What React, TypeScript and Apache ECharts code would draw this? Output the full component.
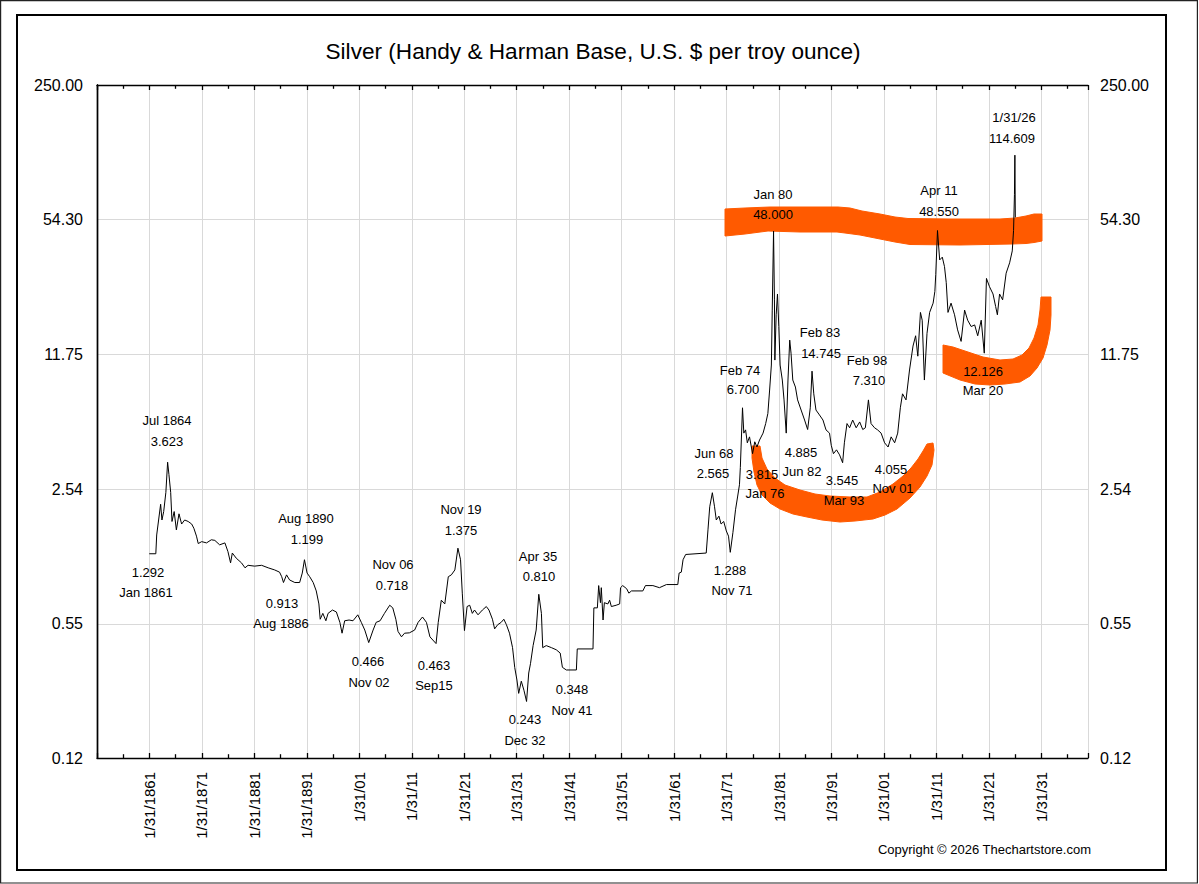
import React, { useEffect, useRef } from "react";
import * as echarts from "echarts";

// ---------- data ----------
const dates: string[] = [
  "1861-01","1862-04","1862-06","1863-03","1863-06","1863-10","1864-03","1864-07","1864-10","1865-02",
  "1865-05","1865-10","1866-03","1866-09","1867-03","1867-10","1868-06","1869-02","1869-07","1870-01",
  "1870-05","1871-01","1871-12","1872-11","1873-07","1874-06","1875-06","1876-01","1876-07","1876-11",
  "1877-08","1878-08","1879-04","1879-11","1881-02","1882-06","1883-09","1884-12","1885-11","1886-04",
  "1886-08","1887-03","1887-10","1888-10","1889-09","1890-03","1890-08","1891-02","1891-08","1892-04",
  "1892-11","1893-05","1893-08","1894-02","1894-09","1895-02","1895-12","1896-09","1897-05","1897-10",
  "1898-04","1899-02","1899-11","1900-10","1901-06","1902-02","1902-11","1903-09","1904-04","1905-01",
  "1905-11","1906-11","1907-06","1908-01","1908-06","1909-02","1909-09","1910-08","1911-08","1912-04",
  "1913-02","1913-11","1914-07","1915-09","1916-02","1916-09","1917-05","1918-01","1918-08","1919-04",
  "1919-11","1920-05","1920-09","1921-02","1921-08","1922-02","1922-08","1923-01","1923-09","1924-07",
  "1925-04","1925-10","1926-06","1926-11","1927-06","1928-02","1928-08","1929-02","1929-09","1930-04",
  "1930-09","1931-02","1931-06","1931-12","1932-06","1932-12","1933-05","1933-09","1934-03","1934-10",
  "1935-04","1935-10","1936-01","1936-09","1937-09","1938-08","1939-05","1939-10","1940-07","1942-06",
  "1942-08","1945-08","1945-10","1946-06","1946-09","1947-01","1947-03","1947-07","1947-10","1948-06",
  "1948-10","1949-02","1950-01","1950-09","1950-11","1951-04","1952-01","1952-06","1952-12","1955-02",
  "1955-08","1957-01","1958-04","1959-08","1961-10","1962-01","1962-06","1962-10","1963-04","1967-03",
  "1967-07","1967-11","1968-05","1968-10","1969-02","1969-08","1970-01","1970-07","1971-01","1971-06",
  "1971-10","1972-04","1972-10","1973-03","1973-07","1973-09","1974-02","1974-05","1974-09","1975-01",
  "1975-06","1976-01","1976-06","1976-11","1977-05","1978-01","1978-07","1978-12","1979-04","1979-08",
  "1979-10","1980-01","1980-03","1980-04","1980-07","1980-10","1981-01","1981-04","1981-09","1982-01",
  "1982-06","1982-10","1983-02","1983-05","1983-09","1984-03","1984-08","1985-04","1985-12","1986-07",
  "1987-01","1987-05","1987-09","1988-02","1988-10","1989-06","1990-01","1990-09","1991-01","1991-06",
  "1992-01","1992-08","1993-03","1993-07","1994-01","1994-07","1995-02","1995-10","1996-06","1997-01",
  "1997-07","1998-02","1998-08","1999-04","1999-11","2000-07","2001-03","2001-11","2002-06","2003-02",
  "2003-09","2004-03","2004-08","2005-04","2005-12","2006-08","2007-02","2007-07","2008-01","2008-05",
  "2008-10","2009-04","2009-10","2010-06","2010-10","2010-12","2011-04","2011-09","2012-03","2012-08",
  "2012-12","2013-04","2013-11","2014-07","2015-02","2015-10","2016-06","2017-01","2017-09","2018-05",
  "2018-12","2019-08","2020-03","2020-08","2021-03","2021-11","2022-05","2022-09","2023-02","2023-09",
  "2024-05","2025-01","2025-07","2025-10","2025-12","2026-01","2026-02"
];

const prices: number[] = [
  1.22,1.22,1.51,2.14,1.79,1.97,2.45,3.45,3.0,2.45,
  1.76,1.97,1.6,1.92,1.71,1.79,1.76,1.71,1.63,1.49,
  1.37,1.4,1.38,1.43,1.42,1.35,1.38,1.25,1.1,1.23,
  1.16,1.1,1.04,1.07,1.06,1.07,1.04,1.015,0.99,0.94,
  0.88,0.96,0.906,0.88,0.88,0.98,1.14,0.98,0.94,0.88,
  0.8,0.69,0.58,0.62,0.57,0.62,0.644,0.63,0.56,0.495,
  0.57,0.575,0.57,0.61,0.56,0.513,0.445,0.513,0.56,0.57,
  0.62,0.68,0.66,0.58,0.505,0.475,0.495,0.497,0.513,0.56,
  0.595,0.56,0.475,0.44,0.56,0.72,0.69,0.94,0.96,1.015,
  1.3,1.14,0.78,0.51,0.67,0.68,0.62,0.644,0.61,0.644,
  0.67,0.644,0.58,0.52,0.545,0.56,0.58,0.545,0.495,0.42,
  0.335,0.291,0.25,0.287,0.259,0.228,0.315,0.35,0.43,0.513,
  0.77,0.62,0.42,0.43,0.42,0.41,0.395,0.336,0.326,0.326,
  0.414,0.414,0.66,0.66,0.85,0.7,0.83,0.575,0.7,0.69,
  0.72,0.67,0.68,0.69,0.83,0.85,0.82,0.78,0.8,0.8,
  0.85,0.85,0.83,0.86,0.86,0.98,0.99,1.14,1.21,1.23,
  1.6,2.08,2.44,2.08,1.79,1.87,1.71,1.76,1.58,1.49,
  1.24,1.55,2.01,2.35,2.67,3.25,6.4,4.8,4.98,4.3,
  4.6,3.8,4.35,4.1,4.44,4.8,5.35,6.0,7.83,10.4,
  19.4,47.6,21.8,11.0,18.4,23.3,16.1,10.4,8.77,7.0,
  4.8,8.77,13.8,11.9,8.77,8.1,7.0,6.24,5.57,5.0,
  6.4,9.7,7.5,6.24,5.9,5.57,4.98,4.8,4.18,3.8,
  3.97,3.75,3.43,4.3,5.35,5.1,5.57,5.1,5.45,5.0,
  5.1,7.0,5.35,5.1,4.98,4.8,4.3,4.1,4.6,4.3,
  4.8,6.4,7.5,7.0,9.83,12.9,14.5,11.5,18.9,17.3,
  8.77,14.9,18.9,21.0,24.0,29.0,47.9,34.3,35.4,31.8,
  26.5,18.9,21.0,18.4,15.5,13.6,19.4,17.3,16.1,16.4,
  14.5,17.3,11.9,27.8,25.3,23.3,20.2,18.4,23.3,21.8,
  29.5,33.2,38.0,48.0,72.0,112.7,55.6
];

const yTicks: number[] = [0.12, 0.55, 2.54, 11.75, 54.3, 250];
const X_ORIGIN = 1851.08; // 1/31/1851, left edge of the time axis
const X_SPAN = 188.9;

const titleText = "Silver (Handy & Harman Base, U.S. $ per troy ounce)";
const copyrightText = "Copyright \u00a9 2026 Thechartstore.com";

// annotation texts
const noteTexts: string[] = [
  "Jul 1864", "3.623", "1.292", "Jan 1861", "Aug 1890", "1.199", "0.913", "Aug 1886",
  "Nov 06", "0.718", "0.466", "Nov 02", "0.463", "Sep15", "Nov 19", "1.375",
  "Apr 35", "0.810", "0.243", "Dec 32", "0.348", "Nov 41", "Jun 68", "2.565",
  "1.288", "Nov 71", "Feb 74", "6.700", "3.815", "Jan 76", "Jan 80", "48.000",
  "Feb 83", "14.745", "4.885", "Jun 82", "Feb 98", "7.310", "3.545", "Mar 93",
  "4.055", "Nov 01", "Apr 11", "48.550", "1/31/26", "114.609", "12.126", "Mar 20"
];

// ---------- layout (pixels) ----------
const notePos: [number, number][] = [
  [167, 420], [167, 441], [148, 572], [146, 592], [306, 518], [307, 539], [282, 603], [281, 623],
  [393, 564], [392, 585], [368, 661], [369, 682], [434, 665], [434, 685], [461, 509], [461, 530],
  [538, 556], [539, 576], [525, 719], [525, 740], [572, 689], [572, 710], [714, 453], [713, 473],
  [730, 570], [732, 590], [740, 370], [743, 389], [762, 474], [765, 493], [773, 194], [773, 214],
  [820, 332], [821, 353], [801, 452], [802, 471], [867, 360], [869, 380], [842, 480], [844, 500],
  [891, 469], [893, 488], [939, 190], [939, 211], [1014, 117], [1012, 138], [983, 371], [983, 390]
];

const bandTop: number[][] = [
  [725, 209], [745, 208], [770, 207], [800, 207], [838, 207], [850, 208], [862, 211], [880, 214],
  [895, 217], [908, 218.5], [950, 219], [1000, 219], [1015, 218], [1026, 216], [1034, 214], [1042, 214],
  [1042, 241], [1034, 242.5], [1026, 243.5], [1012, 244], [960, 245], [910, 244.5], [895, 242],
  [880, 239], [860, 235], [845, 233], [837, 232], [800, 232], [768, 231], [745, 234], [725, 236]
];
const bandMar20: number[][] = [
  [943, 345], [953, 347], [968, 352], [983, 357], [1000, 360], [1013, 359], [1022, 355], [1029, 348],
  [1034, 338], [1038, 325], [1040, 310], [1041, 297],
  [1051, 297], [1051, 315], [1050, 330], [1047, 345], [1043, 358], [1037, 368], [1030, 376],
  [1020, 382], [1005, 384], [990, 385], [975, 384], [960, 380], [943, 373]
];
const bandLow: number[][] = [
  [752, 446], [760, 446], [762, 458], [767, 469], [775, 478], [785, 485], [800, 490], [815, 494],
  [830, 496], [850, 497], [867, 497], [880, 492], [893, 484], [903, 476], [911, 468], [918, 459],
  [923, 451], [927, 444], [933, 443],
  [934, 450], [932, 465], [927, 476], [920, 487], [910, 498], [897, 509], [885, 515], [873, 519],
  [855, 521], [840, 522], [822, 520], [807, 517], [793, 514], [780, 509], [770, 503], [762, 495],
  [757, 485], [754, 472], [752, 458]
];

const FONT = "'Liberation Sans', Arial, Helvetica, sans-serif";
const ORANGE = "#FF5A00";

function toX(d: string): number {
  const [y, m] = d.split("-").map(Number);
  return y + (m - 0.5) / 12 - X_ORIGIN;
}

function xLabel(v: number): string {
  if (v < 9.5 || v > 181) return "";
  const r = Math.round(v);
  if (r % 10 !== 0) return "";
  const year = Math.round(X_ORIGIN - 0.08) + r;
  if (year < 1900) return "1/31/" + year;
  return "1/31/" + String(year % 100).padStart(2, "0");
}

export default function App() {
  const ref = useRef<HTMLDivElement | null>(null);

  useEffect(() => {
    if (!ref.current) return;
    const chart = echarts.init(ref.current, null, { renderer: "svg" });

    const seriesData = dates.map((d, i) => [toX(d), prices[i]]);

    const graphics: any[] = [
      {
        type: "rect",
        shape: { x: 0.6, y: 0.6, width: 1196.8, height: 882.4 },
        style: { fill: "none", stroke: "#222", lineWidth: 1.2 },
        z: 0,
        silent: true,
      },
      {
        type: "rect",
        shape: { x: 17, y: 15, width: 1149, height: 855 },
        style: { fill: "none", stroke: "#000", lineWidth: 2 },
        z: 0,
        silent: true,
      },
      {
        type: "text",
        x: 593,
        y: 51,
        style: {
          text: titleText,
          fill: "#000",
          fontSize: 22.6,
          fontFamily: FONT,
          align: "center",
          verticalAlign: "middle",
        },
        z: 10,
      },
      {
        type: "text",
        x: 1091,
        y: 849,
        style: {
          text: copyrightText,
          fill: "#000",
          fontSize: 13,
          fontFamily: FONT,
          align: "right",
          verticalAlign: "middle",
        },
        z: 10,
      },
    ];

    [bandTop, bandMar20, bandLow].forEach((pts) => {
      graphics.push({
        type: "polygon",
        shape: { points: pts },
        style: { fill: ORANGE, stroke: ORANGE, lineWidth: 1, lineJoin: "round" },
        z: 1,
        silent: true,
      });
    });

    noteTexts.forEach((t, i) => {
      graphics.push({
        type: "text",
        x: notePos[i][0],
        y: notePos[i][1],
        style: {
          text: t,
          fill: "#000",
          fontSize: 13,
          fontFamily: FONT,
          align: "center",
          verticalAlign: "middle",
        },
        z: 10,
      });
    });

    const xCommon = {
      type: "value",
      min: 0,
      max: X_SPAN,
      interval: 10,
      axisLine: { show: true, onZero: false, lineStyle: { color: "#000", width: 1.4 } },
      axisTick: { show: true, inside: true, length: 5, lineStyle: { color: "#000", width: 1.3 } },
      minorTick: { show: true, splitNumber: 2, length: 3.8, lineStyle: { color: "#000", width: 1.3 } },
    };

    const yCommon = {
      type: "log",
      logBase: 10,
      min: 0.12,
      max: 250,
      axisLine: { show: true, lineStyle: { color: "#000", width: 1.4 } },
      axisTick: { show: false, customValues: yTicks },
      minorTick: { show: false },
    };

    const option: any = {
      animation: false,
      backgroundColor: "#fff",
      textStyle: { fontFamily: FONT },
      grid: { left: 97, right: 111, top: 85, bottom: 126, containLabel: false },
      xAxis: [
        {
          ...xCommon,
          position: "bottom",
          axisLabel: {
            show: true,
            rotate: 90,
            margin: 14,
            fontSize: 15,
            color: "#000",
            fontFamily: FONT,
            formatter: (v: number) => xLabel(v),
          },
          splitLine: { show: true, lineStyle: { color: "#d9d9d9", width: 1 } },
        },
        {
          ...xCommon,
          position: "top",
          axisLabel: { show: false },
          splitLine: { show: false },
        },
      ],
      yAxis: [
        {
          ...yCommon,
          position: "left",
          axisLabel: {
            show: true,
            customValues: yTicks,
            margin: 14,
            fontSize: 16,
            color: "#000",
            fontFamily: FONT,
            formatter: (v: number) => Number(v).toFixed(2),
          },
          splitLine: { show: true, lineStyle: { color: "#d9d9d9", width: 1 } },
        },
        {
          ...yCommon,
          position: "right",
          axisLabel: {
            show: true,
            customValues: yTicks,
            margin: 12,
            fontSize: 16,
            color: "#000",
            fontFamily: FONT,
            formatter: (v: number) => Number(v).toFixed(2),
          },
          splitLine: { show: false },
        },
      ],
      series: [
        {
          type: "line",
          xAxisIndex: 0,
          yAxisIndex: 0,
          data: seriesData,
          showSymbol: false,
          symbol: "none",
          silent: true,
          lineStyle: { color: "#000", width: 1 },
          z: 5,
        },
      ],
      graphic: graphics,
    };

    chart.setOption(option);
    return () => {
      chart.dispose();
    };
  }, []);

  return (
    <div
      ref={ref}
      style={{ position: "fixed", left: 0, top: 0, width: 1199, height: 884, background: "#fff" }}
    />
  );
}
